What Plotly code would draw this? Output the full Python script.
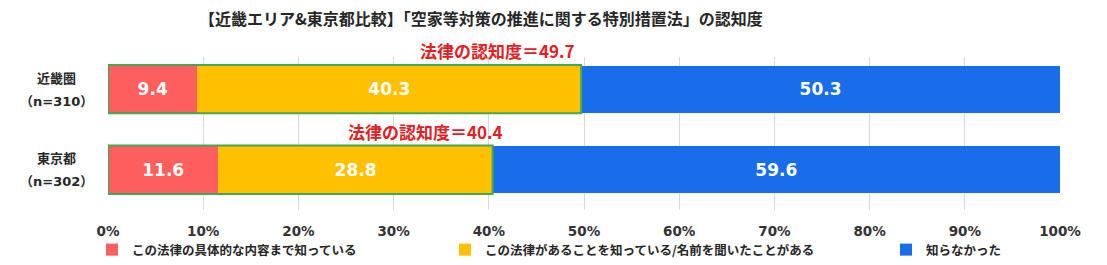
import plotly.graph_objects as go

# ---- data ----
regions = ["近畿圏", "東京都"]
sample_sizes = ["（n=310）", "（n=302）"]
series_names = [
    "この法律の具体的な内容まで知っている",
    "この法律があることを知っている/名前を聞いたことがある",
    "知らなかった",
]
know_details = [9.4, 11.6]
know_name = [40.3, 28.8]
not_know = [50.3, 59.6]
awareness = [49.7, 40.4]
title_text = "【近畿エリア&東京都比較】「空家等対策の推進に関する特別措置法」の認知度"
x_ticks = [0, 10, 20, 30, 40, 50, 60, 70, 80, 90, 100]
x_tick_labels = [f"{v}%" for v in x_ticks]

# ---- style ----
W, H = 1107, 265
ML, MR, MT, MB = 108, 47, 57, 55
PW, PH = W - ML - MR, H - MT - MB
colors = ["#FF5E5E", "#FFC000", "#1A6DE8"]
green = "#3DAA55"
red_text = "#E2201F"
dark = "#262626"
FONT = "DejaVu Sans, Noto Sans CJK JP"
CJK = "Noto Sans CJK JP, DejaVu Sans"


def px_x(px):
    return (px - ML) / PW


def px_y(py):
    return (H - MB - py) / PH


fig = go.Figure()
series_vals = [know_details, know_name, not_know]
legend_ids = ["legend", "legend2", "legend3"]
for name, vals, col, lg in zip(series_names, series_vals, colors, legend_ids):
    fig.add_trace(go.Bar(
        y=regions, x=vals, name=name, orientation="h",
        marker=dict(color=col, line=dict(width=0)),
        text=[f"{v:.1f}" for v in vals],
        textposition="inside", insidetextanchor="middle",
        textfont=dict(family=FONT, size=17, color="white", weight="bold"),
        textangle=0, constraintext="none",
        legend=lg, hoverinfo="skip",
    ))

# green frames around "aware" segments + awareness labels
shifts = [-4, 12]
for i, (reg, a) in enumerate(zip(regions, awareness)):
    fig.add_shape(type="rect", xref="x", yref="y",
                  x0=0, x1=a, y0=i - 0.3, y1=i + 0.3,
                  line=dict(color=green, width=2), fillcolor="rgba(0,0,0,0)")
    fig.add_annotation(xref="x", yref="y", x=a, y=i - 0.3,
                       xanchor="right", yanchor="bottom",
                       xshift=shifts[i], yshift=0,
                       text=f"法律の認知度＝{a}", showarrow=False,
                       font=dict(family=CJK, size=17, color=red_text, weight="bold"))

# category labels (two lines, centred)
for i, (reg, n) in enumerate(zip(regions, sample_sizes)):
    fig.add_annotation(xref="paper", yref="y", x=px_x(56), y=i, yshift=12,
                       text=reg, showarrow=False, xanchor="center", yanchor="middle",
                       font=dict(family=CJK, size=13, color=dark, weight="bold"))
    fig.add_annotation(xref="paper", yref="y", x=px_x(56), y=i, yshift=-12,
                       text=n, showarrow=False, xanchor="center", yanchor="middle",
                       font=dict(family=FONT, size=13, color=dark, weight="bold"))

# title
fig.add_annotation(xref="paper", yref="paper", x=px_x(481), y=px_y(18),
                   text=title_text, showarrow=False, xanchor="center", yanchor="middle",
                   font=dict(family=CJK, size=16, color=dark, weight="bold"))

leg_common = dict(orientation="h", xref="container", yref="container",
                  yanchor="middle", xanchor="left", y=1 - 250 / H,
                  font=dict(family=CJK, size=12.5, color=dark, weight="bold"),
                  bgcolor="rgba(0,0,0,0)", itemwidth=30, tracegroupgap=0)
leg_x = [92, 445, 886]

fig.update_layout(
    width=W, height=H,
    margin=dict(l=ML, r=MR, t=MT, b=MB, pad=0, autoexpand=False),
    barmode="stack", bargap=0.42,
    plot_bgcolor="white", paper_bgcolor="white",
    showlegend=True,
    legend=dict(leg_common, x=leg_x[0] / W),
    legend2=dict(leg_common, x=leg_x[1] / W),
    legend3=dict(leg_common, x=leg_x[2] / W),
    xaxis=dict(range=[0, 100], tickmode="array", tickvals=x_ticks,
               ticktext=x_tick_labels,
               showgrid=True, gridcolor="#D9D9D9", gridwidth=1,
               zeroline=False, showline=False, ticks="",
               ticklabelstandoff=11, automargin=False,
               tickfont=dict(family=FONT, size=13.5, color="#333333", weight="bold"),
               fixedrange=True),
    yaxis=dict(categoryorder="array", categoryarray=regions,
               range=[1.5, -0.4], showticklabels=False, showgrid=False,
               zeroline=False, showline=False, fixedrange=True, automargin=False),
)

fig.write_html("out.html")
